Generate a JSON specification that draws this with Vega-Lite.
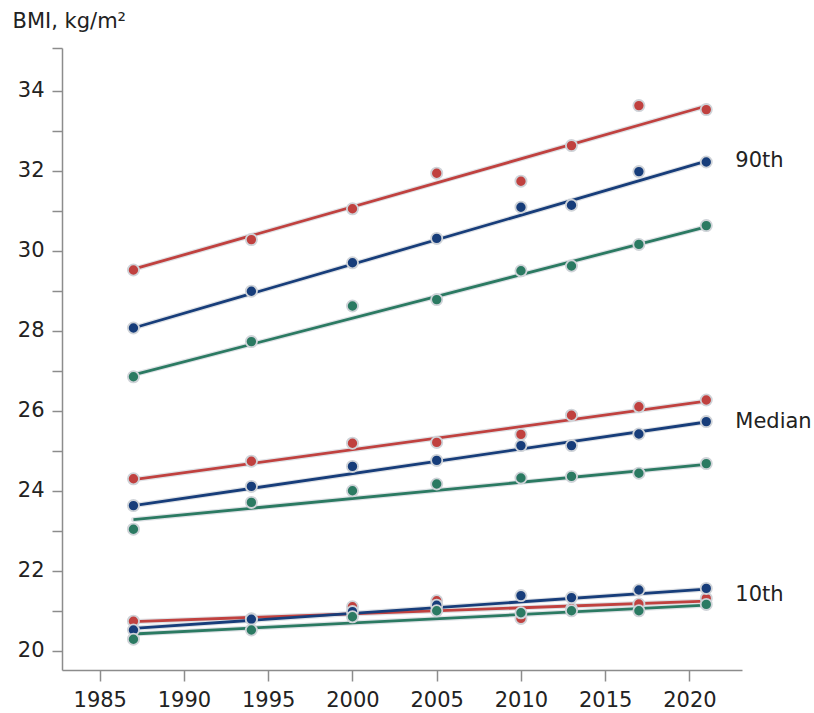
{
  "$schema": "https://vega.github.io/schema/vega-lite/v6.json",
  "width": 680,
  "height": 622,
  "autosize": {"type": "none"},
  "padding": {"left": 62, "top": 48, "right": 72, "bottom": 43},
  "background": "white",
  "config": {
    "view": {"stroke": null},
    "axis": {
      "grid": false,
      "domainColor": "#8c8c8c",
      "tickColor": "#8c8c8c",
      "domainWidth": 1.5,
      "tickWidth": 1.5,
      "tickSize": 10,
      "labelFont": "DejaVu Sans",
      "labelFontSize": 21,
      "labelColor": "#222222",
      "titleFont": "DejaVu Sans",
      "titleFontSize": 21,
      "titleFontWeight": "normal",
      "titleColor": "#222222"
    }
  },
  "datasets": {
    "points": [
      {"year": 1987, "bmi": 29.52, "group": "A", "pct": "90th"},
      {"year": 1994, "bmi": 30.28, "group": "A", "pct": "90th"},
      {"year": 2000, "bmi": 31.05, "group": "A", "pct": "90th"},
      {"year": 2005, "bmi": 31.94, "group": "A", "pct": "90th"},
      {"year": 2010, "bmi": 31.74, "group": "A", "pct": "90th"},
      {"year": 2013, "bmi": 32.63, "group": "A", "pct": "90th"},
      {"year": 2017, "bmi": 33.63, "group": "A", "pct": "90th"},
      {"year": 2021, "bmi": 33.53, "group": "A", "pct": "90th"},
      {"year": 1987, "bmi": 24.3, "group": "A", "pct": "Median"},
      {"year": 1994, "bmi": 24.74, "group": "A", "pct": "Median"},
      {"year": 2000, "bmi": 25.19, "group": "A", "pct": "Median"},
      {"year": 2005, "bmi": 25.21, "group": "A", "pct": "Median"},
      {"year": 2010, "bmi": 25.41, "group": "A", "pct": "Median"},
      {"year": 2013, "bmi": 25.89, "group": "A", "pct": "Median"},
      {"year": 2017, "bmi": 26.1, "group": "A", "pct": "Median"},
      {"year": 2021, "bmi": 26.27, "group": "A", "pct": "Median"},
      {"year": 1987, "bmi": 20.74, "group": "A", "pct": "10th"},
      {"year": 1994, "bmi": 20.8, "group": "A", "pct": "10th"},
      {"year": 2000, "bmi": 21.1, "group": "A", "pct": "10th"},
      {"year": 2005, "bmi": 21.25, "group": "A", "pct": "10th"},
      {"year": 2010, "bmi": 20.81, "group": "A", "pct": "10th"},
      {"year": 2013, "bmi": 21.05, "group": "A", "pct": "10th"},
      {"year": 2017, "bmi": 21.17, "group": "A", "pct": "10th"},
      {"year": 2021, "bmi": 21.31, "group": "A", "pct": "10th"},
      {"year": 1987, "bmi": 28.07, "group": "B", "pct": "90th"},
      {"year": 1994, "bmi": 28.99, "group": "B", "pct": "90th"},
      {"year": 2000, "bmi": 29.7, "group": "B", "pct": "90th"},
      {"year": 2005, "bmi": 30.31, "group": "B", "pct": "90th"},
      {"year": 2010, "bmi": 31.09, "group": "B", "pct": "90th"},
      {"year": 2013, "bmi": 31.14, "group": "B", "pct": "90th"},
      {"year": 2017, "bmi": 31.98, "group": "B", "pct": "90th"},
      {"year": 2021, "bmi": 32.22, "group": "B", "pct": "90th"},
      {"year": 1987, "bmi": 23.63, "group": "B", "pct": "Median"},
      {"year": 1994, "bmi": 24.11, "group": "B", "pct": "Median"},
      {"year": 2000, "bmi": 24.61, "group": "B", "pct": "Median"},
      {"year": 2005, "bmi": 24.76, "group": "B", "pct": "Median"},
      {"year": 2010, "bmi": 25.13, "group": "B", "pct": "Median"},
      {"year": 2013, "bmi": 25.13, "group": "B", "pct": "Median"},
      {"year": 2017, "bmi": 25.42, "group": "B", "pct": "Median"},
      {"year": 2021, "bmi": 25.73, "group": "B", "pct": "Median"},
      {"year": 1987, "bmi": 20.52, "group": "B", "pct": "10th"},
      {"year": 1994, "bmi": 20.79, "group": "B", "pct": "10th"},
      {"year": 2000, "bmi": 20.98, "group": "B", "pct": "10th"},
      {"year": 2005, "bmi": 21.14, "group": "B", "pct": "10th"},
      {"year": 2010, "bmi": 21.38, "group": "B", "pct": "10th"},
      {"year": 2013, "bmi": 21.33, "group": "B", "pct": "10th"},
      {"year": 2017, "bmi": 21.52, "group": "B", "pct": "10th"},
      {"year": 2021, "bmi": 21.56, "group": "B", "pct": "10th"},
      {"year": 1987, "bmi": 26.85, "group": "C", "pct": "90th"},
      {"year": 1994, "bmi": 27.73, "group": "C", "pct": "90th"},
      {"year": 2000, "bmi": 28.62, "group": "C", "pct": "90th"},
      {"year": 2005, "bmi": 28.78, "group": "C", "pct": "90th"},
      {"year": 2010, "bmi": 29.5, "group": "C", "pct": "90th"},
      {"year": 2013, "bmi": 29.62, "group": "C", "pct": "90th"},
      {"year": 2017, "bmi": 30.16, "group": "C", "pct": "90th"},
      {"year": 2021, "bmi": 30.63, "group": "C", "pct": "90th"},
      {"year": 1987, "bmi": 23.04, "group": "C", "pct": "Median"},
      {"year": 1994, "bmi": 23.71, "group": "C", "pct": "Median"},
      {"year": 2000, "bmi": 24.0, "group": "C", "pct": "Median"},
      {"year": 2005, "bmi": 24.17, "group": "C", "pct": "Median"},
      {"year": 2010, "bmi": 24.32, "group": "C", "pct": "Median"},
      {"year": 2013, "bmi": 24.36, "group": "C", "pct": "Median"},
      {"year": 2017, "bmi": 24.44, "group": "C", "pct": "Median"},
      {"year": 2021, "bmi": 24.68, "group": "C", "pct": "Median"},
      {"year": 1987, "bmi": 20.29, "group": "C", "pct": "10th"},
      {"year": 1994, "bmi": 20.52, "group": "C", "pct": "10th"},
      {"year": 2000, "bmi": 20.85, "group": "C", "pct": "10th"},
      {"year": 2005, "bmi": 21.0, "group": "C", "pct": "10th"},
      {"year": 2010, "bmi": 20.95, "group": "C", "pct": "10th"},
      {"year": 2013, "bmi": 21.0, "group": "C", "pct": "10th"},
      {"year": 2017, "bmi": 21.0, "group": "C", "pct": "10th"},
      {"year": 2021, "bmi": 21.16, "group": "C", "pct": "10th"}
    ],
    "lines": [
      {"year": 1987, "bmi": 29.54, "group": "A", "pct": "90th"},
      {"year": 2021, "bmi": 33.62, "group": "A", "pct": "90th"},
      {"year": 1987, "bmi": 24.28, "group": "A", "pct": "Median"},
      {"year": 2021, "bmi": 26.24, "group": "A", "pct": "Median"},
      {"year": 1987, "bmi": 20.73, "group": "A", "pct": "10th"},
      {"year": 2021, "bmi": 21.24, "group": "A", "pct": "10th"},
      {"year": 1987, "bmi": 28.07, "group": "B", "pct": "90th"},
      {"year": 2021, "bmi": 32.24, "group": "B", "pct": "90th"},
      {"year": 1987, "bmi": 23.63, "group": "B", "pct": "Median"},
      {"year": 2021, "bmi": 25.72, "group": "B", "pct": "Median"},
      {"year": 1987, "bmi": 20.56, "group": "B", "pct": "10th"},
      {"year": 2021, "bmi": 21.54, "group": "B", "pct": "10th"},
      {"year": 1987, "bmi": 26.9, "group": "C", "pct": "90th"},
      {"year": 2021, "bmi": 30.6, "group": "C", "pct": "90th"},
      {"year": 1987, "bmi": 23.28, "group": "C", "pct": "Median"},
      {"year": 2021, "bmi": 24.66, "group": "C", "pct": "Median"},
      {"year": 1987, "bmi": 20.42, "group": "C", "pct": "10th"},
      {"year": 2021, "bmi": 21.14, "group": "C", "pct": "10th"}
    ],
    "labels": [
      {"year": 2021, "bmi": 32.25, "text": "90th"},
      {"year": 2021, "bmi": 25.72, "text": "Median"},
      {"year": 2021, "bmi": 21.4, "text": "10th"}
    ]
  },
  "encoding": {
    "x": {
      "field": "year",
      "type": "quantitative",
      "scale": {"domain": [1982.76, 2023.12], "nice": false, "zero": false},
      "axis": {
        "title": null,
        "values": [1985, 1990, 1995, 2000, 2005, 2010, 2015, 2020],
        "format": "d",
        "tickSize": 11,
        "labelPadding": 8
      }
    },
    "y": {
      "field": "bmi",
      "type": "quantitative",
      "scale": {"domain": [19.52, 35.07], "nice": false, "zero": false},
      "axis": {
        "title": "BMI, kg/m²",
        "titleAngle": 0,
        "titleAlign": "left",
        "titleBaseline": "alphabetic",
        "titleX": -50,
        "titleY": -21,
        "values": [20, 21, 22, 23, 24, 25, 26, 27, 28, 29, 30, 31, 32, 33, 34, 35.07],
        "labelExpr": "(datum.value % 2 == 0 && datum.value <= 34) ? datum.label : ''",
        "labelPadding": 8
      }
    }
  },
  "layer": [
    {
      "data": {"name": "lines"},
      "mark": {"type": "line", "strokeWidth": 5.2, "color": "#dfe2e6", "strokeCap": "round"},
      "encoding": {
        "detail": [{"field": "group"}, {"field": "pct"}]
      }
    },
    {
      "data": {"name": "lines"},
      "mark": {"type": "line", "strokeWidth": 2.8},
      "encoding": {
        "color": {
          "field": "group",
          "type": "nominal",
          "scale": {"domain": ["A", "B", "C"], "range": ["#c0413f", "#173d7a", "#2b7a62"]},
          "legend": null
        },
        "detail": {"field": "pct"}
      }
    },
    {
      "data": {"name": "points"},
      "mark": {"type": "point", "filled": true, "size": 125, "stroke": "#cfd3d8", "strokeWidth": 1.8, "opacity": 1},
      "encoding": {
        "fill": {
          "field": "group",
          "type": "nominal",
          "scale": {"domain": ["A", "B", "C"], "range": ["#c0413f", "#173d7a", "#2b7a62"]},
          "legend": null
        }
      }
    },
    {
      "data": {"name": "labels"},
      "mark": {"type": "text", "align": "left", "baseline": "middle", "dx": 29, "font": "DejaVu Sans", "fontSize": 21, "color": "#222222"},
      "encoding": {
        "text": {"field": "text"}
      }
    }
  ]
}
